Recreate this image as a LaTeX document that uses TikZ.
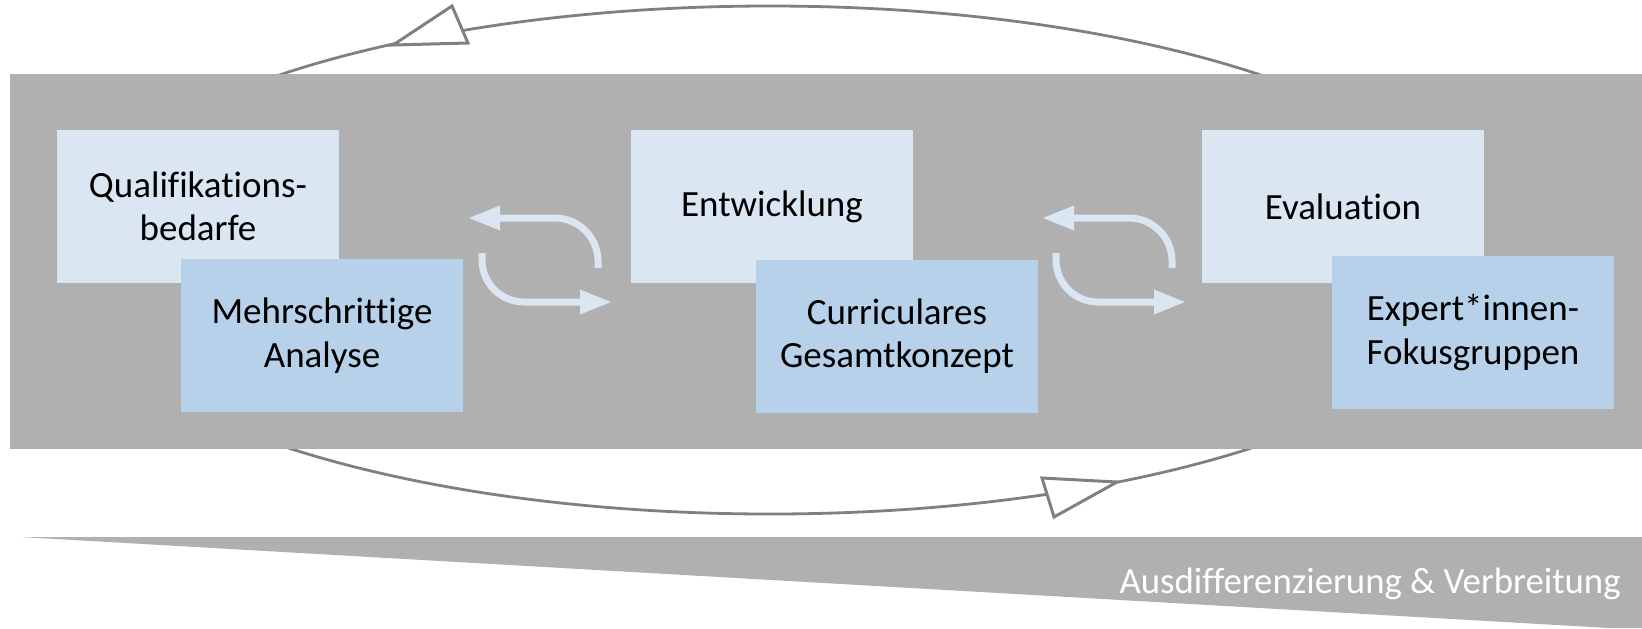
\documentclass[tikz,border=0pt]{standalone}
\usepackage{fontspec}
\setmainfont{Carlito}[Ligatures=NoCommon]
\definecolor{band}{RGB}{176,176,176}
\definecolor{lightbox}{RGB}{218,230,242}
\definecolor{darkbox}{RGB}{183,209,234}
\definecolor{loopline}{RGB}{128,128,128}
\tikzset{
  boxtext/.style={font=\fontsize{18.5pt}{21.75pt}\selectfont, align=center, text=black,
    minimum width=141pt, minimum height=76.5pt, inner sep=0pt},
  upperbox/.style={boxtext, fill=lightbox},
  lowerbox/.style={boxtext, fill=darkbox},
  loopstroke/.style={draw=loopline, line width=1.4pt},
  loophead/.style={draw=loopline, fill=white, line width=1.5pt, line join=miter},
  cyc/.style={draw=lightbox, line width=3.5pt},
  cychead/.style={fill=lightbox},
  cyclepair/.pic={
    % upper arrow, pointing left
    \draw[cyc] (28,0) -- (86,0) .. controls (109.7,0) and (129,19.3) .. (129,43) -- (129,50);
    \fill[cychead] (0,0) -- (31,-12.5) -- (31,12.5) -- cycle;
    % lower arrow, pointing right
    \draw[cyc] (13,35) -- (13,42) .. controls (13,65.2) and (31.8,84) .. (55,84) -- (114,84);
    \fill[cychead] (142,84) -- (111,71.5) -- (111,96.5) -- cycle;
  }
}
\begin{document}
\begin{tikzpicture}[x=0.5pt, y=-0.5pt]
\useasboundingbox (0,0) rectangle (1642,628);

% feedback loop behind the band
\draw[loopstroke] (770,260) ellipse [x radius=358pt, y radius=127pt];
\fill[white] (0,74) rectangle (1642,449);

% main band
\fill[band] (10,74) rectangle (1642,449);

% loop arrowheads
\draw[loophead] (393,45) -- (452,6) -- (468,43) -- cycle;
\draw[loophead] (1117,482) -- (1042,478) -- (1054,517) -- cycle;

% phase boxes
\node[upperbox] (qb) at (198,206.5) {Qualifikations-\\bedarfe};
\node[lowerbox] (ma) at (322,335.5) {Mehrschrittige\\Analyse};
\node[upperbox] (en) at (772,206.5) {Entwicklung};
\node[lowerbox] (cg) at (897,336) {Curriculares\\Gesamtkonzept};
\node[upperbox] (ev) at (1343,206.5) {Evaluation};
\node[lowerbox] (ef) at (1473,332.5) {Expert*innen-\\Fokusgruppen};

% iteration symbols between phases
\pic at (469,218) {cyclepair};
\pic at (1043,218) {cyclepair};

% widening wedge
\fill[band] (21,537) -- (1642,537) -- (1642,628) -- (1609,628) -- cycle;
\node[anchor=base east, text=white, inner sep=0pt, font=\fontsize{18.4pt}{22pt}\selectfont]
  (ausd) at (1621,593) {Ausdifferenzierung \& Verbreitung};
\end{tikzpicture}
\end{document}
